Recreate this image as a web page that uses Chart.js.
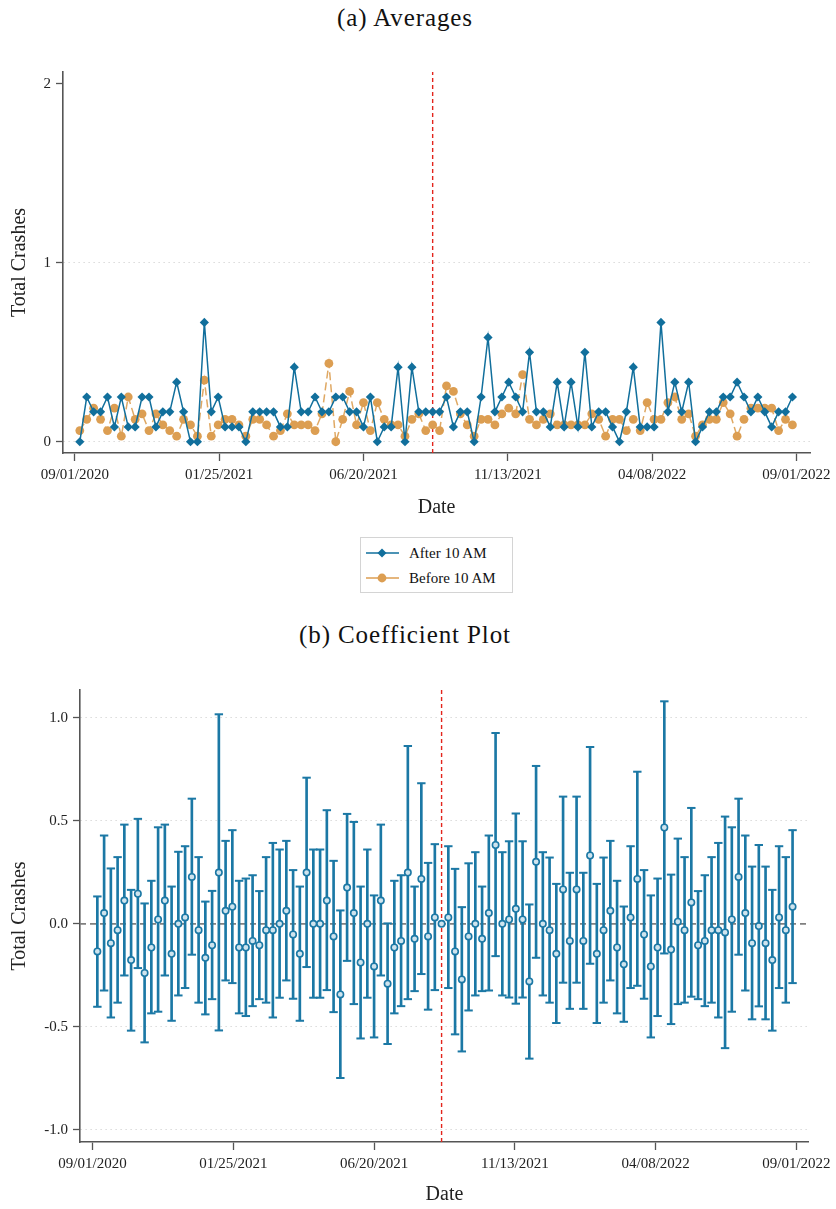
<!DOCTYPE html>
<html>
<head>
<meta charset="utf-8">
<script src="https://cdn.jsdelivr.net/npm/chart.js@4.4.1/dist/chart.umd.min.js"></script>
<style>
  body { margin: 0; background: #fff; width: 836px; height: 1209px; position: relative; overflow: hidden;
         font-family: "Liberation Serif", "Times New Roman", serif; color: #111; }
  .panel-title { position: absolute; left: 0; width: 810px; text-align: center; font-size: 25px; line-height: 28px; letter-spacing: 0.9px; }
  #avgWrap { position: absolute; left: 0; top: 40px; }
  #coefWrap { position: absolute; left: 0; top: 660px; }
  #legend { position: absolute; left: 360px; top: 537px; width: 151px; height: 54px; border: 1px solid #d4d4d4; }
  .leg-row { position: absolute; left: 0; height: 20px; font-size: 15px; line-height: 20px; white-space: nowrap; }
  .leg-row svg { position: absolute; left: 4px; top: 5px; }
  .leg-row span { position: absolute; left: 48px; top: 0; }
</style>
</head>
<body>
<div class="panel-title" style="top:4px">(a) Averages</div>
<div id="avgWrap"><canvas id="avgChart" width="836" height="490"></canvas></div>
<div id="legend"></div>
<div class="panel-title" style="top:621px">(b) Coefficient Plot</div>
<div id="coefWrap"><canvas id="coefChart" width="836" height="549"></canvas></div>

<script>
// weekly observations, first week and the treatment week
var axisStart = '2020-09-01';
var firstWeek = '2020-09-06';
var treatWeek = '2021-08-29';
var tickLabels = ['09/01/2020', '01/25/2021', '06/20/2021', '11/13/2021', '04/08/2022', '09/01/2022'];

// (a) average crashes per week
var afterTen = [
    0, .25, .167, .167, .25, .083, .25, .083, .083, .25, .25, .083, .167, .167, .333, .167, 0, 0, .667, .167, .25, .083, .083, .083, 0, .167, .167,
    .167, .167, .083, .083, .417, .167, .167, .25, .167, .167, .25, .25, .167, .167, .083, .25, 0, .083, .083, .417, 0, .417, .167, .167, .167, .167, .25,
    .083, .167, .167, 0, .25, .583, .167, .25, .333, .25, .167, .5, .167, .167, .083, .333, .083, .333, .083, .5, .083, .167, .167, .083, 0, .167, .417,
    .083, .083, .083, .667, .167, .333, .167, .333, 0, .083, .167, .167, .25, .25, .333, .25, .167, .25, .167, .083, .167, .167, .25
];
var beforeTen = [
    .0625, .125, .1875, .125, .0625, .1875, .031, .25, .125, .156, .0625, .156, .094, .0625, .031, .125, .094, .031, .344, .031, .094, .125, .125, .094, .031, .125, .125,
    .094, .031, .0625, .156, .094, .094, .094, .0625, .156, .4375, 0, .125, .281, .094, .219, .0625, .219, .125, .094, .094, .031, .125, .156, .0625, .094, .0625, .3125,
    .281, .156, .094, .031, .125, .125, .094, .156, .1875, .156, .375, .125, .094, .125, .156, .094, .094, .094, .094, .094, .156, .125, .031, .125, .125, .0625, .125,
    .0625, .219, .125, .125, .219, .25, .125, .156, .031, .094, .125, .125, .219, .156, .031, .125, .1875, .1875, .1875, .1875, .0625, .125, .094
];

// (b) coefficients with 95% CI, week 51 is the omitted reference week
var coef = [
    -0.134, 0.052, -0.094, -0.031, 0.113, -0.176, 0.146, -0.239, -0.115, 0.021,
    0.113, -0.146, 0.0, 0.031, 0.228, -0.031, -0.165, -0.104, 0.249, 0.063,
    0.083, -0.115, -0.115, -0.083, -0.104, -0.031, -0.031, 0.0, 0.063, -0.052,
    -0.146, 0.249, 0.0, 0.0, 0.113, -0.061, -0.343, 0.176, 0.052, -0.188,
    0.0, -0.207, 0.113, -0.291, -0.115, -0.083, 0.249, -0.073, 0.218, -0.061,
    0.031, 0, 0.031, -0.134, -0.270, -0.061, 0.0, -0.073, 0.052, 0.383,
    0.0, 0.021, 0.073, 0.021, -0.280, 0.301, 0.0, -0.031, -0.146, 0.167,
    -0.083, 0.167, -0.083, 0.332, -0.146, -0.031, 0.063, -0.115, -0.197, 0.031,
    0.218, -0.052, -0.207, -0.115, 0.468, -0.125, 0.010, -0.031, 0.104, -0.104,
    -0.083, -0.031, -0.031, -0.042, 0.021, 0.228, 0.052, -0.094, -0.011, -0.094,
    -0.176, 0.031, -0.031, 0.083
];
var ciHigh = [
    0.133, 0.429, 0.269, 0.324, 0.482, 0.165, 0.510, 0.099, 0.209, 0.469,
    0.482, 0.181, 0.350, 0.377, 0.608, 0.324, 0.108, 0.160, 1.018, 0.403,
    0.455, 0.209, 0.220, 0.236, 0.159, 0.324, 0.393, 0.361, 0.403, 0.261,
    0.181, 0.710, 0.361, 0.361, 0.552, 0.306, 0.065, 0.534, 0.495, 0.181,
    0.361, 0.138, 0.482, 0.002, 0.209, 0.236, 0.864, 0.181, 0.683, 0.296,
    0.387, null, 0.377, 0.267, 0.081, 0.294, 0.348, 0.181, 0.429, 0.927,
    0.348, 0.401, 0.536, 0.401, 0.094, 0.767, 0.348, 0.322, 0.194, 0.618,
    0.248, 0.618, 0.248, 0.859, 0.194, 0.322, 0.403, 0.209, 0.084, 0.377,
    0.739, 0.261, 0.138, 0.220, 1.081, 0.239, 0.414, 0.324, 0.563, 0.159,
    0.236, 0.324, 0.393, 0.521, 0.469, 0.608, 0.429, 0.278, 0.383, 0.278,
    0.165, 0.377, 0.324, 0.455
];
var ciLow = [
    -0.403, -0.324, -0.455, -0.383, -0.251, -0.519, -0.215, -0.576, -0.435, -0.427,
    -0.251, -0.471, -0.348, -0.312, -0.150, -0.383, -0.440, -0.366, -0.518, -0.275,
    -0.288, -0.435, -0.448, -0.400, -0.366, -0.383, -0.455, -0.359, -0.275, -0.364,
    -0.471, -0.210, -0.359, -0.359, -0.322, -0.429, -0.749, -0.180, -0.390, -0.557,
    -0.359, -0.552, -0.251, -0.584, -0.435, -0.400, -0.366, -0.327, -0.244, -0.417,
    -0.322, null, -0.312, -0.537, -0.620, -0.421, -0.348, -0.327, -0.324, -0.157,
    -0.348, -0.358, -0.388, -0.358, -0.655, -0.165, -0.348, -0.383, -0.482, -0.286,
    -0.413, -0.286, -0.413, -0.194, -0.482, -0.383, -0.275, -0.435, -0.476, -0.312,
    -0.301, -0.364, -0.552, -0.448, -0.144, -0.487, -0.390, -0.383, -0.354, -0.366,
    -0.400, -0.383, -0.455, -0.604, -0.427, -0.150, -0.324, -0.464, -0.401, -0.464,
    -0.519, -0.312, -0.383, -0.288
];

var avgTicks = [0, 1, 2];
var coefTicks = [-1, -0.5, 0, 0.5, 1];

var blue = '#116f9c';
var coefBlue = '#1b78a5';
var orange = '#dc9e52';
var red = '#e3241c';
var axisGray = '#555555';

function dayOf(iso) {
    return (Date.parse(iso + 'T00:00:00Z') - Date.parse(axisStart + 'T00:00:00Z')) / 86400000;
}
function usDay(s) {
    var p = s.split('/');
    return dayOf(p[2] + '-' + p[0] + '-' + p[1]);
}

var weekDays = afterTen.map(function (v, i) { return dayOf(firstWeek) + 7 * i; });
var tickDays = tickLabels.map(usDay);
var treatDay = dayOf(treatWeek);

function toPoints(values) {
    return values.map(function (v, i) { return { x: weekDays[i], y: v }; });
}

Chart.defaults.font.family = '"Liberation Serif", "Times New Roman", serif';
Chart.defaults.color = '#222';

function xScale(min, max) {
    return {
        type: 'linear', min: min, max: max, offset: false,
        afterBuildTicks: function (s) { s.ticks = tickDays.map(function (d) { return { value: d }; }); },
        ticks: {
            font: { size: 15 }, color: '#222', padding: 5, maxRotation: 0, autoSkip: false,
            callback: function (v, i) { return tickLabels[i]; }
        },
        grid: { drawOnChartArea: false, offset: false, tickColor: axisGray, tickLength: 8, tickWidth: 1.3 },
        border: { color: axisGray, width: 1.6 },
        title: { display: true, text: 'Date', font: { size: 20 }, color: '#222' }
    };
}

function yScale(min, max, ticks, fmt, hideGrid) {
    return {
        min: min, max: max,
        afterBuildTicks: function (s) { s.ticks = ticks.map(function (t) { return { value: t }; }); },
        ticks: { font: { size: 15 }, color: '#222', padding: 5, callback: fmt },
        grid: {
            color: function (c) { return hideGrid(c.tick.value) ? 'rgba(0,0,0,0)' : '#c8c8c8'; },
            lineWidth: 1, tickColor: axisGray, tickLength: 7, tickWidth: 1.3
        },
        border: { color: axisGray, width: 1.6, dash: [1, 4] },
        title: { display: true, text: 'Total Crashes', font: { size: 20 }, color: '#222', padding: { top: 8 } }
    };
}

// ---- (a) averages ----
var avgX = xScale(-12, 744);
avgX.afterFit = function (s) { s.height = 77; };
avgX.title.padding = { bottom: 10 };
var avgY = yScale(-0.063, 2.067, avgTicks, function (v) { return v; }, function (v) { return v === 2; });
avgY.afterFit = function (s) { s.width = 63; };

var avgChart = new Chart(document.getElementById('avgChart'), {
    type: 'line',
    data: {
        datasets: [{
            label: 'After 10 AM',
            data: toPoints(afterTen),
            borderColor: blue, backgroundColor: blue, borderWidth: 1.5,
            pointStyle: 'rectRot', pointRadius: 4.6, pointBorderWidth: 0,
            tension: 0, order: 0
        }, {
            label: 'Before 10 AM',
            data: toPoints(beforeTen),
            borderColor: 'rgba(220,158,82,0.9)', backgroundColor: orange, borderWidth: 1.5,
            borderDash: [8, 4],
            pointStyle: 'circle', pointRadius: 4.4, pointBorderWidth: 0,
            tension: 0, order: 1
        }, {
            label: 'treatment',
            data: [{ x: treatDay, y: -0.063 }, { x: treatDay, y: 2.067 }],
            borderColor: red, borderWidth: 1.4, borderDash: [4, 3],
            pointRadius: 0, order: 2
        }]
    },
    options: {
        responsive: false, animation: false,
        layout: { padding: { top: 32, right: 24, left: 0, bottom: 0 } },
        plugins: { legend: { display: false }, tooltip: { enabled: false } },
        scales: { x: avgX, y: avgY }
    }
});

// legend box built from the first two datasets
function legendIcon(ds) {
    var c = ds.backgroundColor;
    var marker = ds.pointStyle === 'rectRot'
        ? '<path d="M17 0.5 L21.5 5 L17 9.5 L12.5 5 Z" fill="' + c + '"/>'
        : '<circle cx="17" cy="5" r="4.4" fill="' + c + '"/>';
    return '<svg width="36" height="10"><line x1="1" y1="5" x2="34" y2="5" stroke="' + c + '" stroke-width="1.5"/>' + marker + '</svg>';
}
var legendHtml = '';
avgChart.data.datasets.slice(0, 2).forEach(function (ds, i) {
    legendHtml += '<div class="leg-row" style="top:' + (5 + i * 25) + 'px">' + legendIcon(ds) + '<span>' + ds.label + '</span></div>';
});
document.getElementById('legend').innerHTML = legendHtml;

// ---- (b) coefficient plot ----
var coefX = xScale(-13, 743);
coefX.afterFit = function (s) { s.height = 67; };
coefX.title.padding = { bottom: 2 };
var coefY = yScale(-1.06, 1.136, coefTicks, function (v) { return v.toFixed(1); }, function (v) { return v === 0; });
coefY.afterFit = function (s) { s.width = 80; };

var whiskers = [], capsHigh = [], capsLow = [];
coef.forEach(function (v, i) {
    if (ciLow[i] === null) return;
    whiskers.push({ x: weekDays[i], y: [ciLow[i], ciHigh[i]] });
    capsHigh.push({ x: weekDays[i], y: ciHigh[i] });
    capsLow.push({ x: weekDays[i], y: ciLow[i] });
});

new Chart(document.getElementById('coefChart'), {
    type: 'scatter',
    data: {
        datasets: [{
            label: 'Coefficient',
            data: toPoints(coef),
            pointStyle: 'circle', pointRadius: 3.2, pointBorderWidth: 1.6,
            borderColor: coefBlue, backgroundColor: '#cfe4ee', showLine: false, order: 0
        }, {
            label: 'CI cap',
            data: capsHigh.concat(capsLow),
            pointStyle: 'line', pointRadius: 4.2, pointBorderWidth: 2,
            borderColor: coefBlue, backgroundColor: coefBlue, showLine: false, order: 1
        }, {
            type: 'bar',
            label: 'CI',
            data: whiskers,
            backgroundColor: coefBlue, borderWidth: 0,
            barThickness: 2, grouped: false, order: 2
        }, {
            type: 'line',
            label: 'zero',
            data: [{ x: -13, y: 0 }, { x: 743, y: 0 }],
            borderColor: '#808080', borderWidth: 1.8, borderDash: [6, 4],
            pointRadius: 0, order: 3
        }, {
            type: 'line',
            label: 'treatment',
            data: [{ x: treatDay, y: -1.06 }, { x: treatDay, y: 1.136 }],
            borderColor: red, borderWidth: 1.4, borderDash: [4, 3],
            pointRadius: 0, order: 4
        }]
    },
    options: {
        responsive: false, animation: false,
        layout: { padding: { top: 30, right: 24, left: 0, bottom: 0 } },
        plugins: { legend: { display: false }, tooltip: { enabled: false } },
        scales: { x: coefX, y: coefY }
    }
});
</script>
</body>
</html>
